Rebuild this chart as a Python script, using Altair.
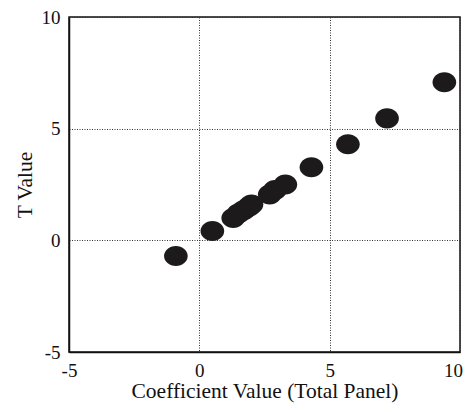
import altair as alt
import pandas as pd

coef = [-0.9, 0.5, 1.3, 1.5, 1.7, 1.9, 2.0, 2.7, 2.9, 3.3, 4.3, 5.7, 7.2, 9.4]
tval = [-0.7, 0.42, 1.0, 1.2, 1.35, 1.5, 1.6, 2.05, 2.25, 2.5, 3.27, 4.3, 5.46, 7.08]
ticks = [-5, 0, 5, 10]

df = pd.DataFrame({"coef": coef, "tval": tval})

ellipse = "M -1 0 A 1 0.85 0 1 0 1 0 A 1 0.85 0 1 0 -1 0 Z"

font = "Liberation Serif"
label_expr = "datum.value < 0 ? '-' + abs(datum.value) : '' + datum.value"

chart = alt.Chart(df).mark_point(
    shape=ellipse, filled=True, size=560, color="#1c1a1b", opacity=1
).encode(
    x=alt.X("coef:Q", title="Coefficient Value (Total Panel)",
            scale=alt.Scale(domain=[-5, 10], nice=False),
            axis=alt.Axis(values=ticks, ticks=False, labelPadding=9, titlePadding=0,
                          labelFlush=False, labelExpr=label_expr,
                          labelOffset=alt.condition("datum.value == 10", alt.value(-7), alt.value(0)))),
    y=alt.Y("tval:Q", title="T Value",
            scale=alt.Scale(domain=[-5, 10], nice=False),
            axis=alt.Axis(values=ticks, ticks=False, labelPadding=9, titlePadding=5,
                          labelFlush=False, labelExpr=label_expr)),
).properties(
    width=391, height=335,
    autosize=alt.AutoSizeParams(type="none"),
    padding={"left": 61, "top": 9, "right": 3, "bottom": 52},
).configure_view(
    stroke="#111111", strokeWidth=1.5
).configure_axis(
    labelFont=font, titleFont=font, labelFontSize=19, titleFontSize=21.5,
    labelColor="#111111", titleColor="#111111", titleFontWeight="normal",
    domainColor="#111111", domainWidth=1.5,
    grid=True, gridColor="#333333", gridDash=[1, 1.5], gridWidth=1, gridOpacity=1,
)

chart.save("out.html", embed_options={"renderer": "svg", "actions": False})
